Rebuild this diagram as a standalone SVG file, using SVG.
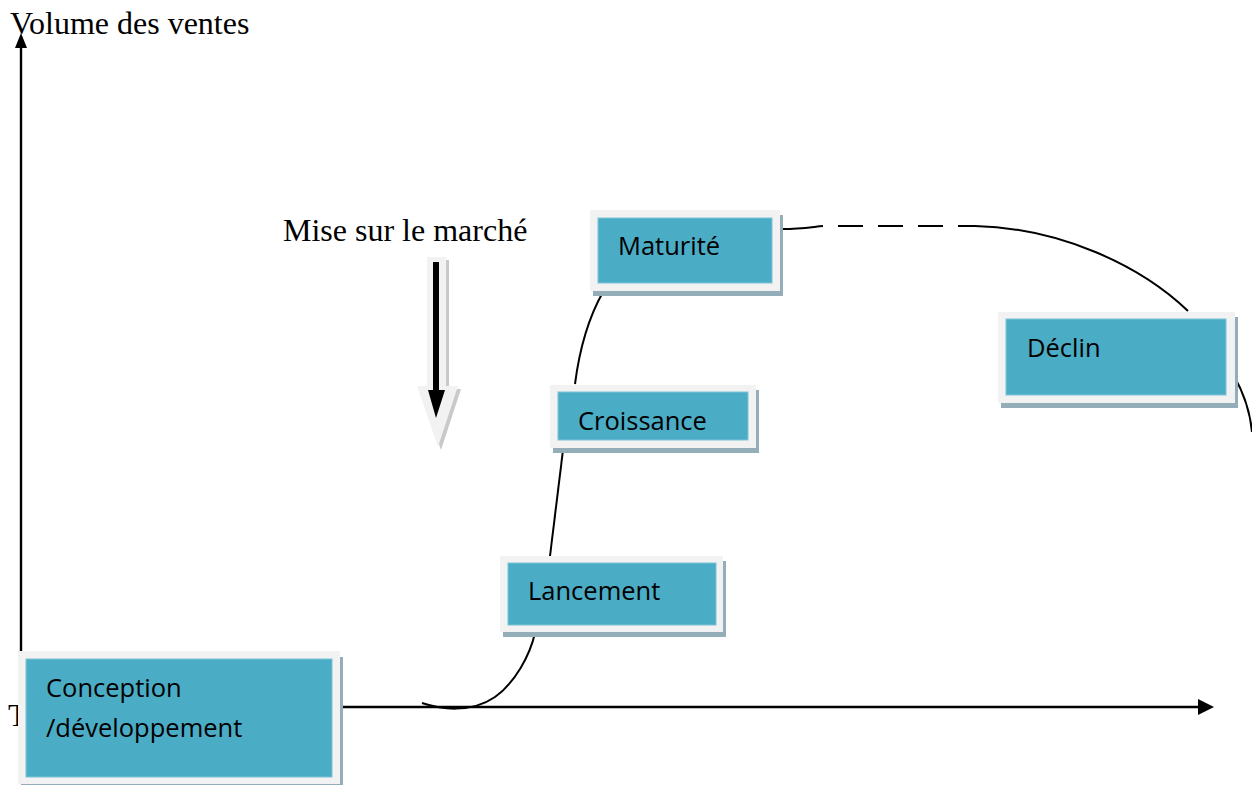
<svg xmlns="http://www.w3.org/2000/svg" width="1252" height="785" viewBox="0 0 1252 785">
<style>
.serif{font-family:"Liberation Serif","Times New Roman",serif;font-size:32px;fill:#000}
.lbl{font-family:"Open Sans","Liberation Sans",sans-serif;font-size:25.5px;fill:#000}
.frame{fill:#f2f2f2}
.shadow{fill:#93aeb9}
.inner{fill:#4bacc6;stroke:#7cc3d6;stroke-width:1}
.curve{fill:none;stroke:#000;stroke-width:2}
.axis{fill:none;stroke:#000;stroke-width:2.4}
</style>
<rect width="1252" height="785" fill="#fff"/>
<g id="axes">
<line class="axis" x1="21" y1="46" x2="21" y2="700"/>
<polygon points="21,33 15,48 27,48" fill="#000"/>
<line class="axis" x1="18" y1="707" x2="1200" y2="707"/>
<polygon points="1214,707 1198,699 1198,715" fill="#000"/>
<text class="serif" x="10" y="34">Volume des ventes</text>
<text class="serif" x="8" y="726">T</text>
</g>
<g id="mise">
<text class="serif" x="283" y="241">Mise sur le marché</text>
<polygon points="430,260 449,260 449,389 461,389 441,450 420,389 430,389" fill="#c9c9c9"/>
<polygon points="427,257 446,257 446,386 458,386 438,447 417,386 427,386" fill="#f2f2f2"/>
<polygon points="433,262 439,262 439,390 445,390 436,418 428,390 433,390" fill="#000"/>
</g>
<g id="connectors">
<path class="curve" d="M422,703 C440,709 470,714 495,697 C515,683 530,655 535,633"/>
<path class="curve" d="M550,556 L563,450"/>
<path class="curve" d="M575,384 C580,345 590,315 603,292"/>
<path class="curve" d="M783,229 C800,229 812,227 823,226"/>
<path class="curve" d="M838,226 L975,226" stroke-dasharray="25 15"/>
<path class="curve" d="M975,226 C1060,228 1140,265 1188,311"/>
<path class="curve" d="M1234,376 C1242,390 1250,410 1252,432"/>
</g>
<g id="conception">
<rect class="shadow" x="21" y="657" width="322" height="133"/>
<rect class="frame" x="18" y="651" width="322" height="133"/>
<rect class="inner" x="26" y="659" width="306" height="118"/>
<text class="lbl" x="46" y="697">Conception</text>
<text class="lbl" x="46" y="737">/développement</text>
</g>
<g id="lancement">
<rect class="shadow" x="503" y="561" width="223" height="76"/>
<rect class="frame" x="500" y="556" width="223" height="76"/>
<rect class="inner" x="508" y="563" width="208" height="62"/>
<text class="lbl" x="528" y="600">Lancement</text>
</g>
<g id="croissance">
<rect class="shadow" x="553" y="390" width="206" height="63"/>
<rect class="frame" x="550" y="385" width="206" height="63"/>
<rect class="inner" x="558" y="392" width="190" height="48"/>
<text class="lbl" x="578" y="430">Croissance</text>
</g>
<g id="maturite">
<rect class="shadow" x="593" y="215" width="190" height="81"/>
<rect class="frame" x="590" y="210" width="190" height="81"/>
<rect class="inner" x="598" y="218" width="174" height="65"/>
<text class="lbl" x="618" y="255">Maturité</text>
</g>
<g id="declin">
<rect class="shadow" x="1001" y="317" width="237" height="91"/>
<rect class="frame" x="998" y="312" width="237" height="91"/>
<rect class="inner" x="1006" y="319" width="220" height="76"/>
<text class="lbl" x="1027" y="357">Déclin</text>
</g>
</svg>
